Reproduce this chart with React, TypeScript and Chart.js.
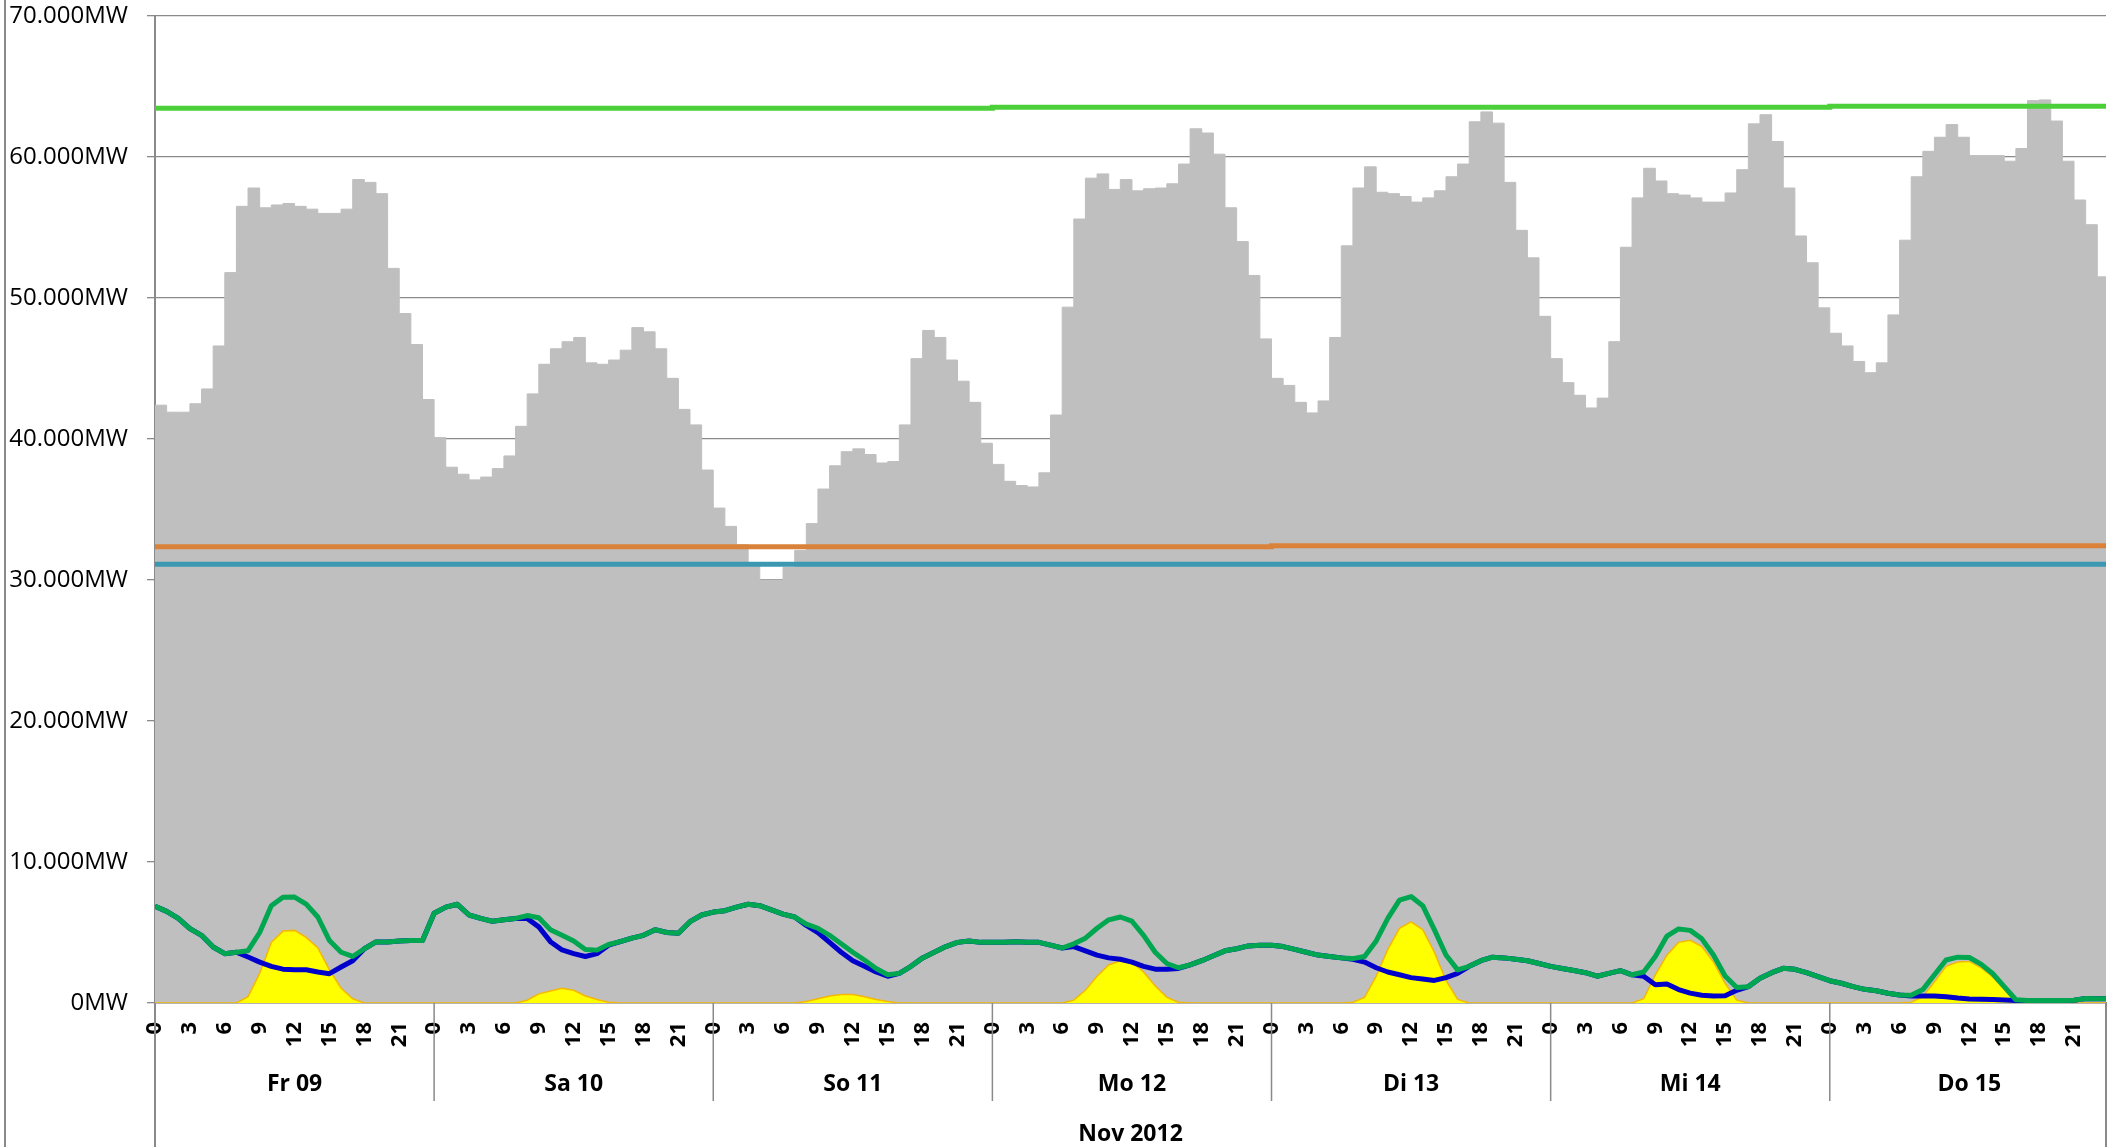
import React, { useEffect, useRef } from 'react';
import { Chart, registerables } from 'chart.js';

Chart.register(...registerables);

// ---------- categories / labels ----------
const DAYS = ['Fr 09', 'Sa 10', 'So 11', 'Mo 12', 'Di 13', 'Mi 14', 'Do 15'];
const MONTH = 'Nov 2012';
const HOUR_TICKS = [0, 3, 6, 9, 12, 15, 18, 21];
const Y_TICKS_GW = [0, 10, 20, 30, 40, 50, 60, 70];

// ---------- Verbrauch (load), hourly, GW ----------
const loadFr09 = [42.4, 41.9, 41.9, 42.5, 43.55, 46.6, 51.8, 56.5, 57.8, 56.4, 56.6, 56.7, 56.5, 56.3, 56.0, 56.0, 56.3, 58.4, 58.2, 57.4, 52.1, 48.9, 46.7, 42.8];
const loadSa10 = [40.1, 38.0, 37.5, 37.1, 37.3, 37.9, 38.8, 40.9, 43.2, 45.3, 46.4, 46.9, 47.2, 45.4, 45.3, 45.6, 46.3, 47.9, 47.6, 46.4, 44.3, 42.1, 41.0, 37.8];
const loadSo11 = [35.1, 33.8, 32.5, 31.2, 30.0, 30.0, 30.9, 32.1, 34.0, 36.45, 38.1, 39.1, 39.3, 38.9, 38.3, 38.4, 41.0, 45.7, 47.7, 47.2, 45.6, 44.1, 42.6, 39.7];
const loadMo12 = [38.2, 37.0, 36.7, 36.6, 37.6, 41.7, 49.35, 55.6, 58.5, 58.8, 57.7, 58.4, 57.6, 57.75, 57.8, 58.1, 59.5, 62.0, 61.7, 60.2, 56.4, 54.0, 51.6, 47.1];
const loadDi13 = [44.3, 43.8, 42.6, 41.85, 42.7, 47.2, 53.7, 57.8, 59.3, 57.5, 57.4, 57.2, 56.8, 57.1, 57.6, 58.6, 59.5, 62.5, 63.2, 62.4, 58.2, 54.8, 52.85, 48.7];
const loadMi14 = [45.7, 44.0, 43.1, 42.2, 42.9, 46.9, 53.6, 57.1, 59.2, 58.3, 57.4, 57.3, 57.1, 56.8, 56.8, 57.45, 59.1, 62.35, 63.0, 61.1, 57.8, 54.4, 52.5, 49.3];
const loadDo15 = [47.5, 46.6, 45.5, 44.7, 45.4, 48.8, 54.1, 58.6, 60.4, 61.4, 62.3, 61.4, 60.1, 60.1, 60.1, 59.7, 60.6, 64.0, 64.05, 62.55, 59.7, 56.95, 55.2, 51.5];

// ---------- Wind, hourly, GW ----------
const windFr09 = [6.86, 6.5, 6.0, 5.27, 4.8, 3.97, 3.5, 3.6, 3.26, 2.9, 2.6, 2.4, 2.36, 2.36, 2.2, 2.08, 2.55, 3.0, 3.85, 4.33, 4.33, 4.4, 4.44, 4.44];
const windSa10 = [6.36, 6.8, 7.0, 6.24, 6.0, 5.8, 5.9, 6.0, 6.0, 5.4, 4.35, 3.76, 3.5, 3.3, 3.5, 4.1, 4.35, 4.6, 4.8, 5.2, 5.0, 4.94, 5.77, 6.24];
const windSo11 = [6.45, 6.55, 6.8, 7.0, 6.9, 6.6, 6.3, 6.1, 5.5, 5.0, 4.3, 3.6, 3.0, 2.6, 2.2, 1.9, 2.1, 2.6, 3.2, 3.6, 4.0, 4.3, 4.4, 4.3];
const windMo12 = [4.3, 4.3, 4.35, 4.3, 4.3, 4.1, 3.9, 4.0, 3.7, 3.4, 3.2, 3.1, 2.9, 2.6, 2.4, 2.4, 2.45, 2.7, 3.0, 3.35, 3.7, 3.85, 4.05, 4.1];
const windDi13 = [4.1, 4.0, 3.8, 3.6, 3.4, 3.3, 3.2, 3.1, 2.9, 2.5, 2.2, 2.0, 1.8, 1.7, 1.6, 1.8, 2.1, 2.6, 3.0, 3.25, 3.2, 3.1, 3.0, 2.8];
const windMi14 = [2.6, 2.45, 2.3, 2.15, 1.9, 2.1, 2.3, 2.0, 1.9, 1.3, 1.35, 0.95, 0.7, 0.55, 0.5, 0.52, 0.9, 1.16, 1.75, 2.15, 2.46, 2.39, 2.15, 1.87];
const windDo15 = [1.58, 1.4, 1.16, 0.97, 0.87, 0.69, 0.57, 0.5, 0.5, 0.5, 0.45, 0.35, 0.28, 0.26, 0.24, 0.21, 0.18, 0.17, 0.17, 0.18, 0.18, 0.2, 0.32, 0.3];

// ---------- Solar, hourly, GW ----------
const solarFr09 = [0, 0, 0, 0, 0, 0, 0, 0, 0.45, 2.1, 4.3, 5.1, 5.15, 4.65, 3.9, 2.35, 1.05, 0.3, 0, 0, 0, 0, 0, 0];
const solarSa10 = [0, 0, 0, 0, 0, 0, 0, 0, 0.2, 0.65, 0.85, 1.05, 0.9, 0.5, 0.25, 0.05, 0, 0, 0, 0, 0, 0, 0, 0];
const solarSo11 = [0, 0, 0, 0, 0, 0, 0, 0, 0.1, 0.3, 0.5, 0.6, 0.6, 0.45, 0.25, 0.1, 0, 0, 0, 0, 0, 0, 0, 0];
const solarMo12 = [0, 0, 0, 0, 0, 0, 0, 0.2, 0.9, 1.9, 2.7, 3.0, 2.9, 2.2, 1.2, 0.4, 0.05, 0, 0, 0, 0, 0, 0, 0];
const solarDi13 = [0, 0, 0, 0, 0, 0, 0, 0.05, 0.4, 1.9, 3.8, 5.3, 5.75, 5.2, 3.6, 1.6, 0.25, 0, 0, 0, 0, 0, 0, 0];
const solarMi14 = [0, 0, 0, 0, 0, 0, 0, 0, 0.3, 2.0, 3.4, 4.3, 4.45, 4.0, 2.9, 1.4, 0.2, 0, 0, 0, 0, 0, 0, 0];
const solarDo15 = [0, 0, 0, 0, 0, 0, 0, 0.05, 0.45, 1.5, 2.6, 2.9, 2.95, 2.5, 1.85, 0.95, 0.05, 0, 0, 0, 0, 0, 0, 0];

// ---------- installed capacities, per day, GW ----------
const capTotal = [63.45, 63.45, 63.45, 63.52, 63.52, 63.52, 63.6];
const capSolar = [32.36, 32.36, 32.36, 32.36, 32.43, 32.43, 32.43];
const capWind = [31.11, 31.11, 31.11, 31.11, 31.11, 31.11, 31.11];

const load = [...loadFr09, ...loadSa10, ...loadSo11, ...loadMo12, ...loadDi13, ...loadMi14, ...loadDo15];
const wind = [...windFr09, ...windSa10, ...windSo11, ...windMo12, ...windDi13, ...windMi14, ...windDo15];
const solar = [...solarFr09, ...solarSa10, ...solarSo11, ...solarMo12, ...solarDi13, ...solarMi14, ...solarDo15];

const HOURS = DAYS.length * 24;
const X_MAX = HOURS - 0.25;

// hourly series held to the end of the period
const hourly = (arr: number[]) => {
  const pts = arr.map((v, i) => ({ x: i, y: v }));
  pts.push({ x: HOURS, y: arr[arr.length - 1] });
  return pts;
};
const daily = (arr: number[]) => {
  const pts = arr.map((v, i) => ({ x: i * 24, y: v }));
  pts.push({ x: HOURS, y: arr[arr.length - 1] });
  return pts;
};
const linePts = (arr: number[]) => {
  const pts = arr.map((v, i) => ({ x: i, y: v }));
  pts.push({ x: X_MAX, y: arr[arr.length - 1] });
  return pts;
};

const totalWS = wind.map((w, i) => w + solar[i]);

const GRID = '#8a8a8a';

const levelsPlugin = {
  id: 'levels',
  afterDraw(chart: any) {
    const { ctx, chartArea, scales } = chart;
    const xs = scales.x;
    const bottom = chartArea.bottom;
    const H = chart.height;
    ctx.save();
    ctx.strokeStyle = GRID;
    ctx.lineWidth = 2;
    // outer left frame
    ctx.beginPath();
    ctx.moveTo(5, 0);
    ctx.lineTo(5, H);
    ctx.stroke();
    for (let d = 0; d <= DAYS.length; d++) {
      const x = d === DAYS.length ? chartArea.right : xs.getPixelForValue(d * 24);
      const outer = d === 0 || d === DAYS.length;
      ctx.beginPath();
      ctx.lineWidth = outer ? 2 : 1.5;
      ctx.moveTo(x, bottom);
      ctx.lineTo(x, outer ? H : bottom + 98);
      ctx.stroke();
    }
    ctx.fillStyle = '#000';
    ctx.textAlign = 'center';
    ctx.textBaseline = 'middle';
    ctx.font = 'bold 23px "Open Sans"';
    DAYS.forEach((lbl, d) => {
      ctx.fillText(lbl, xs.getPixelForValue(d * 24 + 12), bottom + 81);
    });
    ctx.fillText(MONTH, (chartArea.left + chartArea.right) / 2, bottom + 131);
    ctx.restore();
  },
};

export default function App() {
  const ref = useRef<HTMLCanvasElement | null>(null);

  useEffect(() => {
    document.body.style.margin = '0';
    const canvas = ref.current!;
    Chart.defaults.font.family = '"Open Sans", sans-serif';
    const chart = new Chart(canvas, {
      type: 'line',
      data: {
        datasets: [
          {
            label: 'Wind + Solar',
            data: linePts(totalWS),
            borderColor: '#00A650',
            borderWidth: 5,
            pointRadius: 0,
            fill: false,
            tension: 0,
            borderJoinStyle: 'round',
            order: 0,
          },
          {
            label: 'Wind',
            data: linePts(wind),
            borderColor: '#0000CC',
            borderWidth: 5,
            pointRadius: 0,
            fill: false,
            tension: 0,
            borderJoinStyle: 'round',
            order: 1,
          },
          {
            label: 'Solar',
            data: linePts(solar),
            borderColor: '#F5B800',
            backgroundColor: '#FFFF00',
            borderWidth: 1.5,
            pointRadius: 0,
            fill: 'origin',
            tension: 0,
            order: 2,
          },
          {
            label: 'Installiert gesamt',
            data: daily(capTotal),
            borderColor: '#4CD03A',
            borderWidth: 5,
            pointRadius: 0,
            stepped: true,
            fill: false,
            order: 3,
          },
          {
            label: 'Installiert Solar',
            data: daily(capSolar),
            borderColor: '#DB823A',
            borderWidth: 5,
            pointRadius: 0,
            stepped: true,
            fill: false,
            order: 4,
          },
          {
            label: 'Installiert Wind',
            data: daily(capWind),
            borderColor: '#3B98B0',
            borderWidth: 5,
            pointRadius: 0,
            stepped: true,
            fill: false,
            order: 5,
          },
          {
            label: 'Verbrauch',
            data: hourly(load),
            borderColor: '#BFBFBF',
            backgroundColor: '#BFBFBF',
            borderWidth: 1,
            pointRadius: 0,
            stepped: true,
            fill: 'origin',
            order: 6,
          },
        ],
      },
      options: {
        responsive: false,
        animation: false,
        devicePixelRatio: 1,
        events: [],
        layout: { padding: { left: 5, right: 10, top: 16, bottom: 0 } },
        plugins: {
          legend: { display: false },
          tooltip: { enabled: false },
          title: { display: false },
        },
        scales: {
          x: {
            type: 'linear',
            min: 0,
            max: X_MAX,
            grid: { display: false, drawTicks: false },
            border: { display: true, color: GRID, width: 1.5 },
            afterBuildTicks: (scale: any) => {
              const t: any[] = [];
              for (let d = 0; d < DAYS.length; d++) {
                HOUR_TICKS.forEach((h) => t.push({ value: d * 24 + h }));
              }
              scale.ticks = t;
            },
            afterFit: (scale: any) => {
              scale.height = 144;
              scale.paddingLeft = 0;
              scale.paddingRight = 0;
            },
            ticks: {
              autoSkip: false,
              minRotation: 90,
              maxRotation: 90,
              padding: 19,
              color: '#000',
              font: { family: '"Open Sans"', size: 22, weight: 'bold' },
              callback: (v: any) => String(Number(v) % 24),
            },
          },
          y: {
            type: 'linear',
            min: 0,
            max: 70,
            afterBuildTicks: (scale: any) => {
              scale.ticks = Y_TICKS_GW.map((v) => ({ value: v }));
            },
            afterFit: (scale: any) => {
              scale.width = 150;
              scale.paddingTop = 0;
              scale.paddingBottom = 0;
            },
            grid: { color: GRID, lineWidth: 1.3, tickLength: 8, drawTicks: true },
            border: { display: true, color: GRID, width: 2 },
            ticks: {
              padding: 19,
              color: '#000',
              font: { family: '"Open Sans"', size: 24 },
              callback: (v: any) => (Number(v) === 0 ? '0MW' : `${v}.000MW`),
            },
          },
        },
      },
      plugins: [levelsPlugin],
    } as any);
    return () => chart.destroy();
  }, []);

  return (
    <div style={{ position: 'fixed', left: 0, top: 0, width: 2116, height: 1147, background: '#fff' }}>
      <canvas ref={ref} width={2116} height={1147} style={{ width: 2116, height: 1147, display: 'block' }} />
    </div>
  );
}
